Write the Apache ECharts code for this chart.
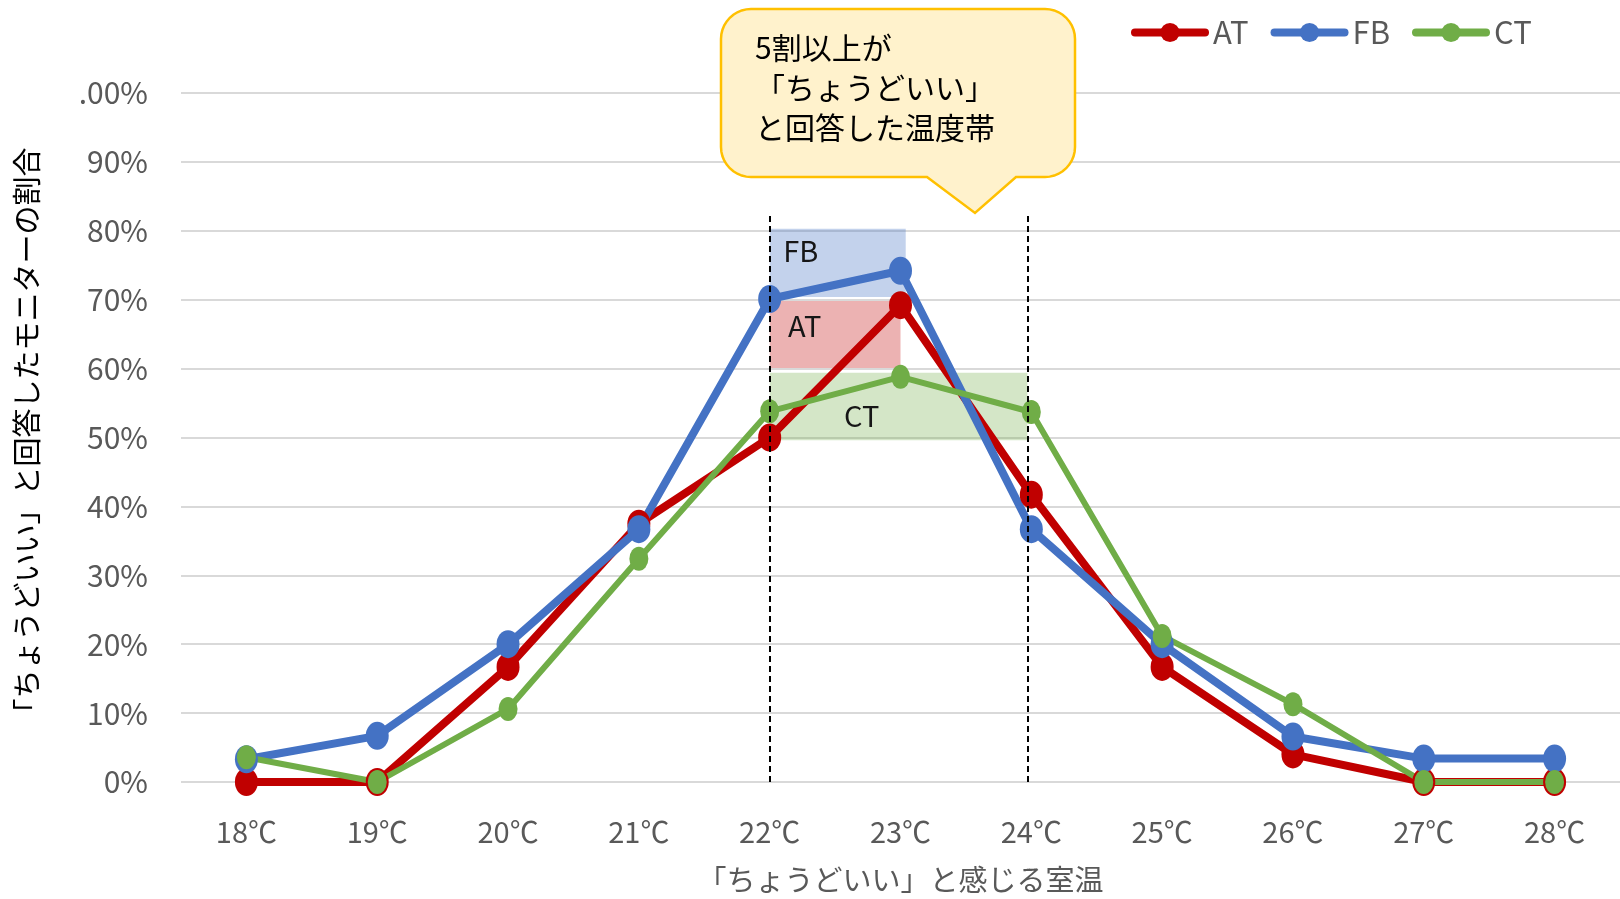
<!DOCTYPE html>
<html><head><meta charset="utf-8">
<script src="https://cdn.jsdelivr.net/npm/echarts@6/dist/echarts.min.js"></script>
<style>html,body{margin:0;padding:0;background:#fff}#c{width:1620px;height:899px}</style>
</head><body><div id="c"></div>
<script>
const categories = ['18℃','19℃','20℃','21℃','22℃','23℃','24℃','25℃','26℃','27℃','28℃'];
const seriesNames = ['AT','FB','CT'];
const AT = [0, 0, 16.7, 37.5, 50, 69.2, 41.7, 16.7, 4.0, 0, 0];
const FB = [3.3, 6.7, 20, 36.7, 70.1, 74.2, 36.7, 20, 6.6, 3.4, 3.4];
const CT = [3.6, 0, 10.6, 32.4, 53.8, 58.8, 53.7, 21.2, 11.3, 0, 0];
const yTicks = [0, 100, 10];
// highlighted bands: [name, xFrom, xTo, yFrom, yTo] in category-index units
const bands = [
  ['FB', 4.0, 5.04, 70.4, 80.3],
  ['AT', 4.0, 5.0, 60.1, 69.8],
  ['CT', 4.0, 5.97, 49.6, 59.4]
];
const dashedLines = [[4.0, 0, 82.7], [5.97, 0, 82.7]];
const calloutLines = ['5割以上が', '「ちょうどいい」', 'と回答した温度帯'];
const xTitle = '「ちょうどいい」と感じる室温';
const yTitle = '「ちょうどいい」と回答したモニターの割合';

const colors = {AT:'#c00000', FB:'#4472c4', CT:'#70ad47'};
const bandColors = {AT:'rgba(192,0,0,0.3)', FB:'rgba(68,114,196,0.32)', CT:'rgba(112,173,71,0.3)'};
const bandLabelPos = {FB:[31,22], AT:[35,25], CT:[92,43]};
const FONT = "'Noto Sans CJK JP','Noto Sans',sans-serif";

// callout shape (rounded box with a pointer), pixel geometry
function calloutPoints(x1, y1, x2, y2, r, pL, tip, pR) {
  const pts = [];
  const arc = (cx, cy, a0, a1) => {
    for (let i = 0; i <= 10; i++) {
      const a = a0 + (a1 - a0) * i / 10;
      pts.push([cx + r * Math.cos(a), cy + r * Math.sin(a)]);
    }
  };
  arc(x1 + r, y1 + r, Math.PI, 1.5 * Math.PI);
  arc(x2 - r, y1 + r, 1.5 * Math.PI, 2 * Math.PI);
  arc(x2 - r, y2 - r, 0, 0.5 * Math.PI);
  pts.push([pR, y2], tip, [pL, y2]);
  arc(x1 + r, y2 - r, 0.5 * Math.PI, Math.PI);
  return pts;
}

const chart = echarts.init(document.getElementById('c'), null, {renderer:'canvas'});
const values = {AT, FB, CT};
const lineSeries = seriesNames.map(n => ({
  name: n, type: 'line', data: values[n],
  symbol: 'circle',
  symbolSize: n === 'CT' ? [19, 24] : [23, 28],
  lineStyle: {color: colors[n], width: n === 'CT' ? 6 : 8},
  itemStyle: {color: colors[n]},
  z: 2
}));
const overlay = {
  name: 'overlay', type: 'line', xAxisIndex: 1, data: [], z: 5, silent: true,
  markArea: {
    silent: true,
    data: bands.map(b => [
      {coord: [b[1], b[4]], itemStyle: {color: bandColors[b[0]]},
       label: {show: true, formatter: b[0], position: bandLabelPos[b[0]], align: 'center', verticalAlign: 'middle',
               color: '#161616', fontSize: 29, fontFamily: FONT}},
      {coord: [b[2], b[3]]}
    ])
  },
  markLine: {
    silent: true, symbol: 'none', label: {show: false},
    lineStyle: {color: '#000', width: 2, type: [6, 4]},
    data: dashedLines.map(d => [{coord: [d[0], d[1]]}, {coord: [d[0], d[2]]}])
  }
};

chart.setOption({
  animation: false,
  grid: {left: 181, right: 0, top: 93, bottom: 117, outerBoundsMode: 'none', containLabel: false},
  legend: {
    data: seriesNames, left: 1126, top: 12, itemWidth: 70, itemHeight: 24, itemGap: 22,
    lineStyle: {width: 8, cap: 'round'},
    textStyle: {color: '#595959', fontSize: 31, fontFamily: FONT, padding: [0, 0, 0, 3]}
  },
  xAxis: [{
    type: 'category', data: categories, boundaryGap: true,
    axisLine: {show: false}, axisTick: {show: false},
    axisLabel: {color: '#595959', fontSize: 29, margin: 35, fontFamily: FONT},
    name: xTitle, nameLocation: 'middle', nameGap: 83,
    nameTextStyle: {color: '#595959', fontSize: 29, fontFamily: FONT}
  }, {
    type: 'value', min: -0.5, max: 10.5, show: false
  }],
  yAxis: {
    type: 'value', min: yTicks[0], max: yTicks[1], interval: yTicks[2],
    axisLine: {show: false}, axisTick: {show: false},
    splitLine: {lineStyle: {color: '#d9d9d9', width: 2}},
    axisLabel: {color: '#595959', fontSize: 30, margin: 33, fontFamily: FONT,
      formatter: v => v === 100 ? '.00%' : v + '%'},
    name: yTitle, nameLocation: 'middle', nameGap: 140, nameRotate: 90,
    nameTextStyle: {color: '#000', fontSize: 29, fontFamily: FONT}
  },
  series: [...lineSeries, overlay],
  graphic: [{
    type: 'polygon', z: 100,
    shape: {points: calloutPoints(721, 9, 1075, 177, 30, 927, [975, 213], 1016)},
    style: {fill: '#fff2cc', stroke: '#ffc000', lineWidth: 2.5}
  }, {
    type: 'text', z: 101, left: 755, top: 28,
    style: {text: calloutLines.join('\n'), fill: '#000', fontSize: 30, lineHeight: 40, fontFamily: FONT}
  }]
});
</script></body></html>
